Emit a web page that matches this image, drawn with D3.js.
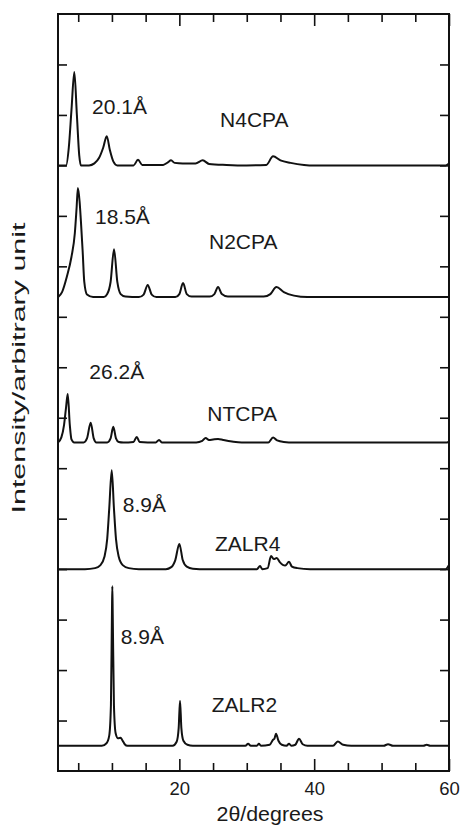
<!DOCTYPE html>
<html>
<head>
<meta charset="utf-8">
<script src="https://cdn.jsdelivr.net/npm/d3@7"></script>
<style>
  body { margin: 0; background: #fff; }
  svg text { font-family: "Liberation Sans", Arial, sans-serif; fill: #1a1a1a; }
  .trace { fill: none; stroke: #111; stroke-width: 2; stroke-linejoin: round; }
  .tick line { stroke: #111; stroke-width: 1.6; }
</style>
</head>
<body>
<div id="chart"></div>
<script>
// 2theta (degrees) / intensity above each pattern's own baseline
var n4cpa = [[2.0,0],[3.2,0],[3.6,0.35],[4.0,1.1],[4.42,1.85],[4.8,1.0],[5.15,0.2],[5.4,0],[6.6,0],[7.4,0.04],
  [8.1,0.15],[8.7,0.35],[9.23,0.58],[9.7,0.3],[10.2,0.08],[10.8,0],[13.2,0],[13.87,0.11],[14.5,0.01],[17.6,0.01],
  [18.3,0.06],[18.77,0.1],[19.3,0.05],[20.5,0.04],[22.4,0.04],[23.47,0.1],[24.4,0.03],[27,0.01],[30,0],[32.9,0.01],
  [33.9,0.18],[35.0,0.1],[36.5,0.05],[38.5,0.01],[40,0],[59.5,0],[60,0.04]];
var n2cpa = [[2.0,0],[2.6,0.1],[3.3,0.4],[4.0,0.8],[4.5,1.27],[4.75,1.75],[4.95,2.16],[5.2,1.9],[5.4,1.5],[5.65,0.93],
  [5.9,0.3],[6.3,0.05],[7.2,0],[8.8,0],[9.3,0.06],[9.8,0.3],[10.31,0.95],[10.8,0.3],[11.3,0.06],[12,0.01],[14.0,0],
  [14.7,0.05],[15.31,0.24],[15.9,0.05],[16.6,0],[19.4,0],[20.0,0.06],[20.55,0.28],[21.1,0.06],[21.8,0.01],[24.5,0.01],
  [25.2,0.06],[25.74,0.2],[26.3,0.06],[27.2,0.01],[32.5,0.01],[33.5,0.06],[34.4,0.2],[35.5,0.1],[37,0.03],[39,0],[60,0]];
var ntcpa = [[2.0,0],[2.5,0.1],[2.9,0.35],[3.2,0.7],[3.44,0.96],[3.75,0.35],[4.0,0.06],[4.4,0],[5.8,0],[6.3,0.08],
  [6.85,0.39],[7.3,0.08],[7.7,0],[9.3,0],[9.8,0.08],[10.2,0.31],[10.6,0.08],[11.0,0.01],[11.7,0],[13.2,0.01],
  [13.68,0.11],[14.1,0.01],[16.5,0],[16.99,0.05],[17.4,0],[22.5,0],[23.4,0.03],[23.9,0.09],[24.4,0.05],[25.0,0.06],
  [25.74,0.07],[26.5,0.05],[27.8,0.02],[29.25,0],[33.2,0],[33.9,0.1],[34.5,0.04],[35.5,0.01],[37,0],[59.7,0],[60,0.02]];
var zalr4 = [[2.0,0],[6,0],[7.5,0.02],[8.3,0.08],[8.9,0.25],[9.3,0.6],[9.6,1.2],[9.97,1.96],[10.3,1.2],[10.6,0.6],
  [11.0,0.25],[11.6,0.08],[12.5,0.02],[14,0],[18,0],[18.8,0.04],[19.4,0.18],[20.0,0.5],[20.5,0.18],[21.1,0.05],
  [22,0.01],[24,0],[31.5,0],[31.97,0.06],[32.3,0],[33.1,0.02],[33.6,0.26],[34.0,0.2],[34.45,0.22],[34.9,0.14],
  [35.7,0.07],[36.27,0.145],[36.7,0.05],[37.5,0.02],[39.4,0],[59.5,0],[60,0.08]];
var zalr2 = [[2.0,0],[8.5,0],[9.2,0.05],[9.6,0.2],[9.85,0.8],[10.0,2.6],[10.06,3.16],[10.12,2.6],[10.3,0.8],
  [10.55,0.25],[10.9,0.15],[11.3,0.16],[11.5,0.12],[11.9,0.03],[12.3,0],[19.0,0],[19.6,0.08],[19.9,0.35],[20.1,0.89],
  [20.3,0.35],[20.6,0.1],[21.2,0.02],[22,0],[29.8,0],[30.2,0.04],[30.6,0],[31.5,0],[31.8,0.04],[32.1,0],[33.4,0.02],
  [33.9,0.12],[34.1,0.14],[34.34,0.24],[34.7,0.1],[35.2,0.02],[35.9,0],[36.27,0.04],[36.6,0],[37.2,0.02],[37.75,0.14],
  [38.3,0.03],[39,0],[42.8,0],[43.5,0.085],[44.3,0.02],[45.5,0],[50.3,0],[50.96,0.03],[51.7,0],[56.2,0],[56.7,0.02],
  [57.2,0],[60,0]];

var seriesNames = ["N4CPA", "N2CPA", "NTCPA", "ZALR4", "ZALR2"];
var seriesData = [n4cpa, n2cpa, ntcpa, zalr4, zalr2];
var offsets = [12.0, 9.39, 6.51, 4.0, 0.5];
var spacings = ["20.1Å", "18.5Å", "26.2Å", "8.9Å", "8.9Å"];

var xMajor = [20, 40, 60];
var xMinor = [5, 10, 15, 25, 30, 35, 45, 50, 55];
var yTicks = d3.range(1, 15);

var width = 460, height = 826;
var margin = {top: 14, right: 11, bottom: 55, left: 58};
var w = width - margin.left - margin.right,
    h = height - margin.top - margin.bottom;

var x = d3.scaleLinear().domain([2, 60]).range([0, w]);
var y = d3.scaleLinear().domain([0, 15]).range([h, 0]);

var svg = d3.select("#chart").append("svg")
    .attr("width", width)
    .attr("height", height);

var g = svg.append("g")
    .attr("transform", "translate(" + margin.left + "," + margin.top + ")");

// ticks, all pointing inward
g.append("g").attr("class", "axis")
    .attr("transform", "translate(0," + h + ")")
    .call(d3.axisBottom(x).tickValues(xMajor).tickSize(-12).tickPadding(11).tickFormat(d3.format("d")))
    .call(function(s) { s.selectAll("text").style("font-size", "18.5px").attr("fill", "#1a1a1a"); });
g.append("g").attr("class", "axis")
    .attr("transform", "translate(0," + h + ")")
    .call(d3.axisBottom(x).tickValues(xMinor).tickSize(-8).tickFormat(""));
g.append("g").attr("class", "axis")
    .call(d3.axisTop(x).tickValues(xMajor).tickSize(-12).tickFormat(""));
g.append("g").attr("class", "axis")
    .call(d3.axisTop(x).tickValues(xMinor).tickSize(-8).tickFormat(""));
g.append("g").attr("class", "axis")
    .call(d3.axisLeft(y).tickValues(yTicks).tickSize(-9).tickFormat(""));
g.append("g").attr("class", "axis")
    .attr("transform", "translate(" + w + ",0)")
    .call(d3.axisRight(y).tickValues(yTicks).tickSize(-9).tickFormat(""));

g.selectAll("path.domain").remove();

// frame
g.append("rect")
    .attr("width", w)
    .attr("height", h)
    .attr("fill", "none")
    .attr("stroke", "#111")
    .attr("stroke-width", 2);

// patterns
seriesData.forEach(function(data, i) {
    var line = d3.line()
        .curve(d3.curveMonotoneX)
        .x(function(d) { return x(d[0]); })
        .y(function(d) { return y(d[1] + offsets[i]); });
    g.append("path")
        .datum(data)
        .attr("class", "trace")
        .attr("d", line);
});

// labels: [2theta, level] of the text baseline start
var spacingPos = [[7.05, 13.02], [7.49, 10.84], [6.65, 7.77], [11.6, 5.14], [11.3, 2.516]];
var namePos = [[26.04, 12.76], [24.4, 10.34], [24.15, 6.94], [25.29, 4.365], [24.8, 1.16]];

g.selectAll(".dlabel")
    .data(spacings)
    .enter().append("text")
    .attr("class", "dlabel")
    .attr("x", function(d, i) { return x(spacingPos[i][0]); })
    .attr("y", function(d, i) { return y(spacingPos[i][1]); })
    .style("font-size", "21px")
    .text(function(d) { return d; });

g.selectAll(".nlabel")
    .data(seriesNames)
    .enter().append("text")
    .attr("class", "nlabel")
    .attr("x", function(d, i) { return x(namePos[i][0]); })
    .attr("y", function(d, i) { return y(namePos[i][1]); })
    .style("font-size", "21px")
    .text(function(d) { return d; });

// axis titles
svg.append("text")
    .attr("x", 270)
    .attr("y", 821)
    .attr("text-anchor", "middle")
    .attr("textLength", 107)
    .attr("lengthAdjust", "spacingAndGlyphs")
    .style("font-size", "20px")
    .text("2θ/degrees");

svg.append("text")
    .attr("transform", "translate(25,368) rotate(-90)")
    .attr("text-anchor", "middle")
    .attr("textLength", 291)
    .attr("lengthAdjust", "spacingAndGlyphs")
    .style("font-size", "18px")
    .text("Intensity/arbitrary unit");
</script>
</body>
</html>
